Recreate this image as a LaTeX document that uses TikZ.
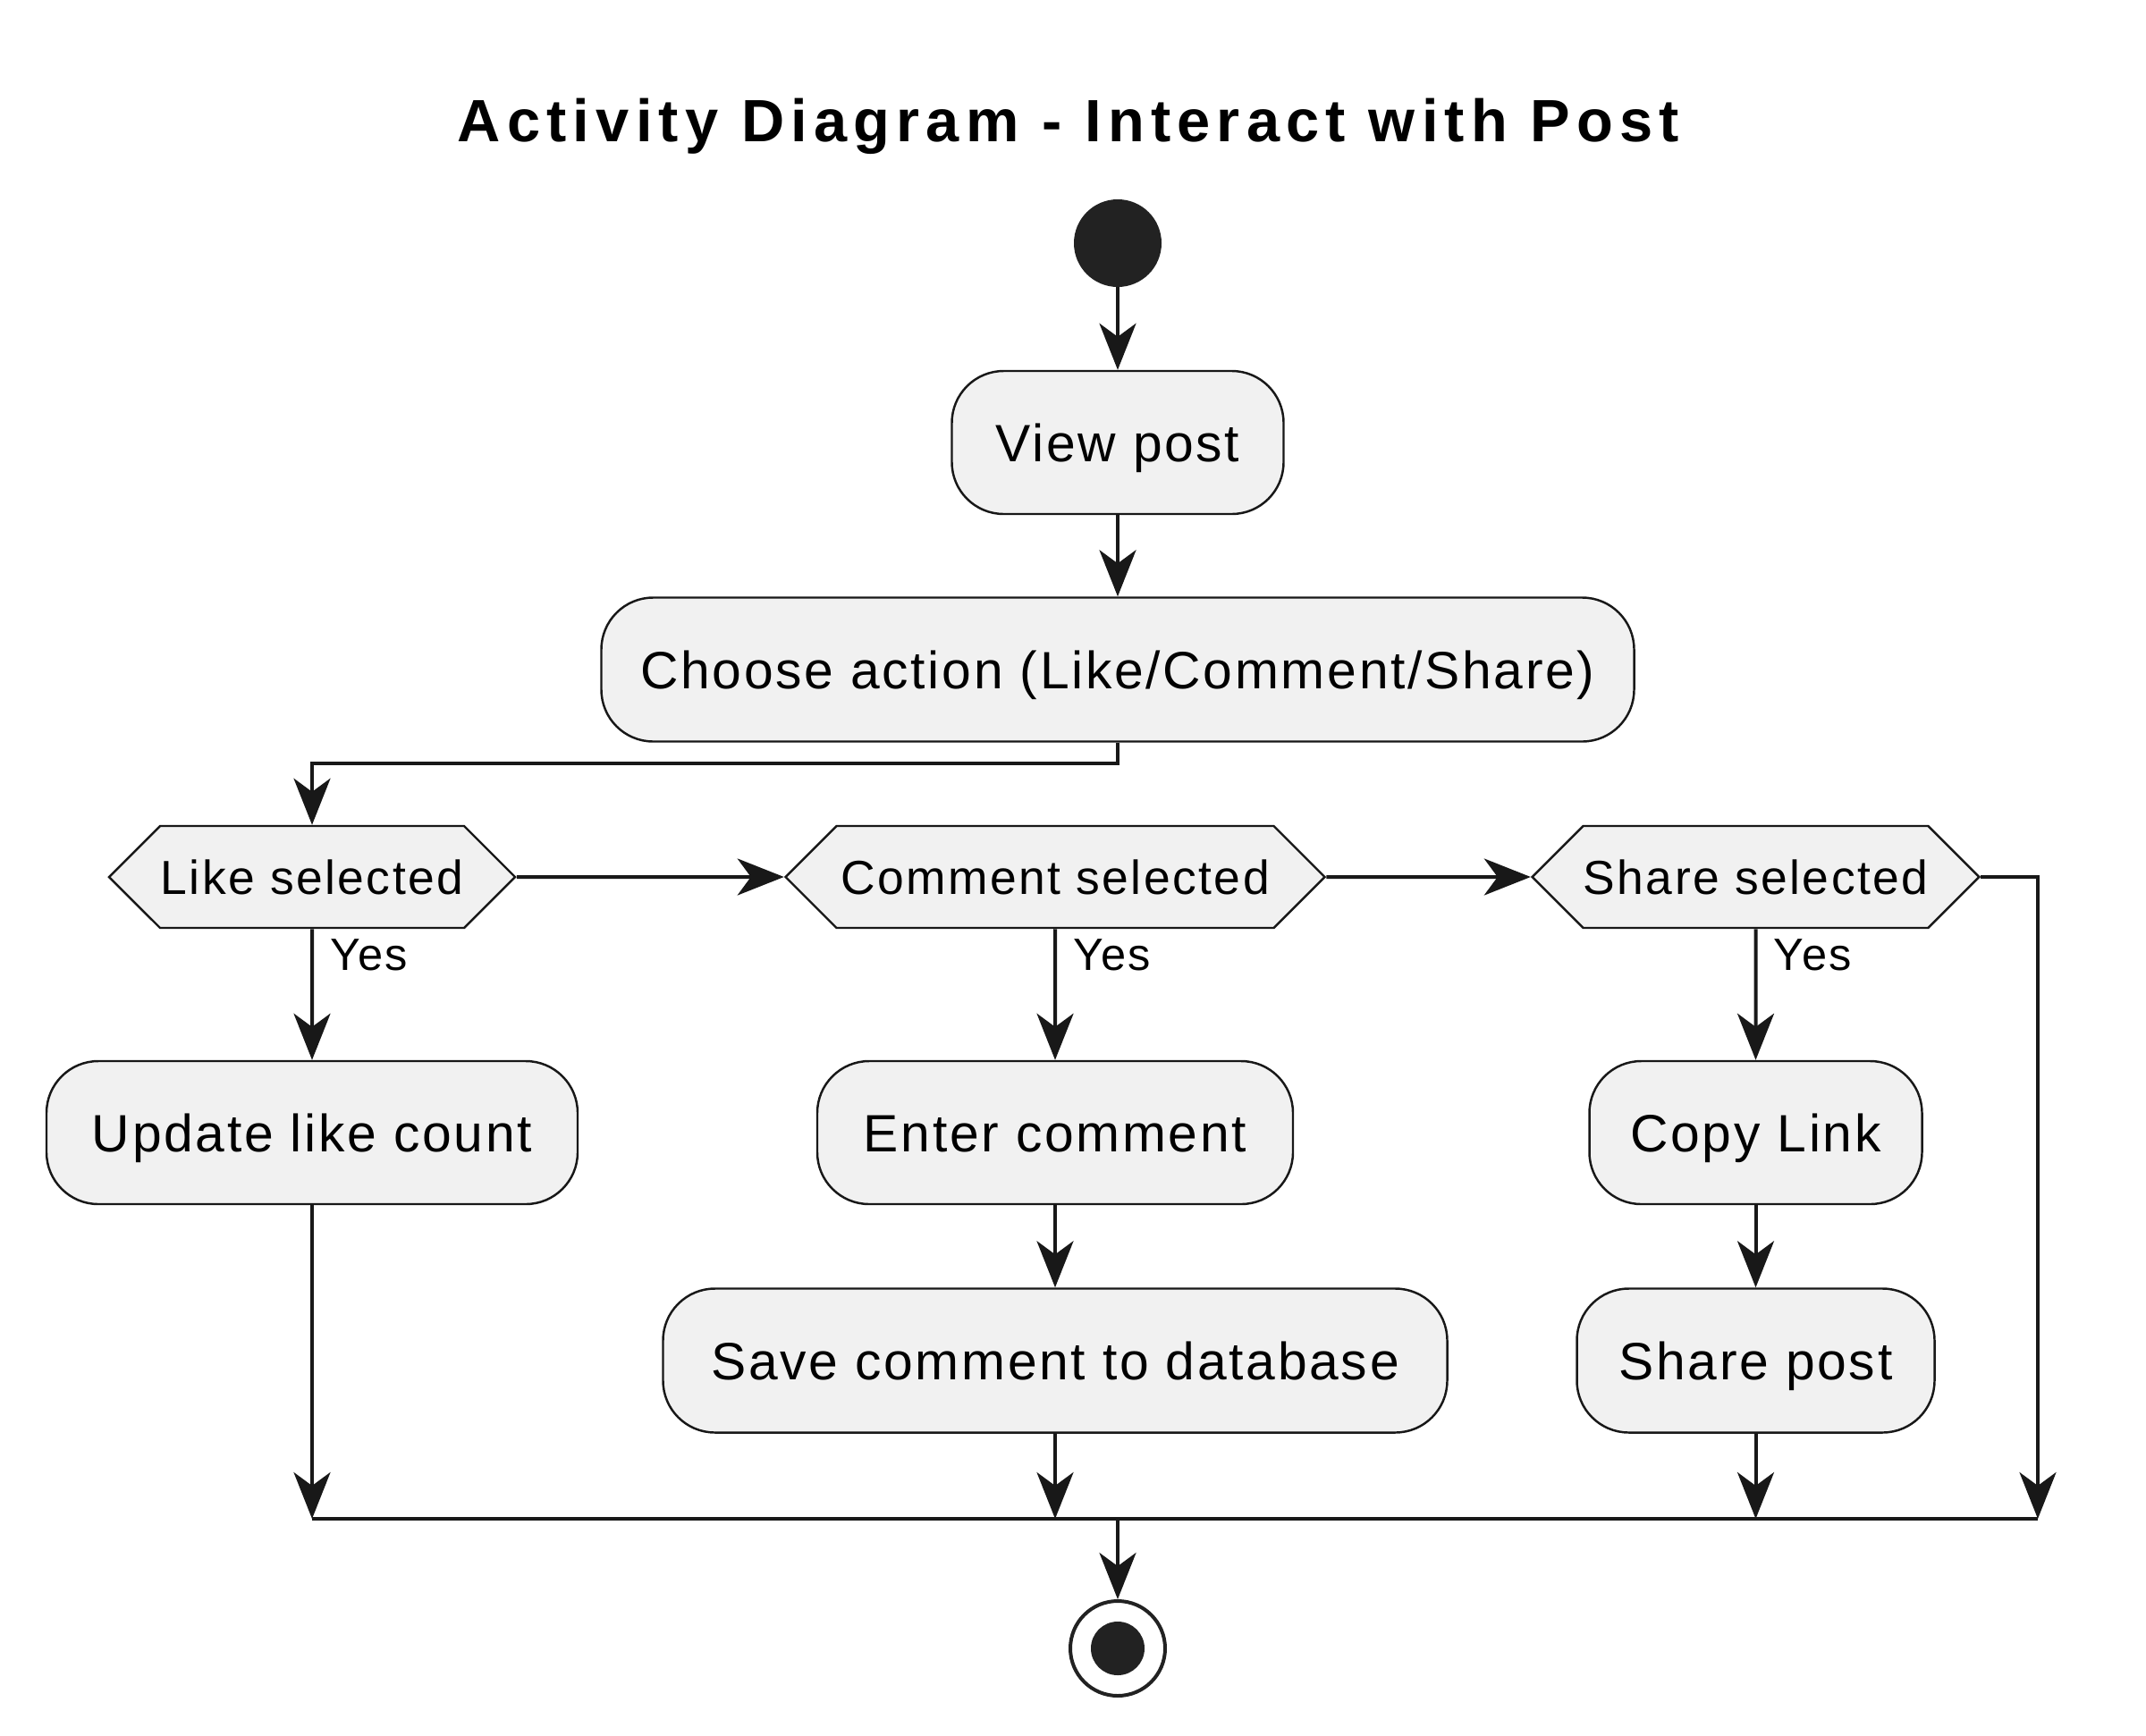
\documentclass[tikz,border=0pt]{standalone}
\usepackage{fontspec}
\setmainfont{Liberation Sans}[LetterSpace=4.6]
\newfontfamily\titlefont{Liberation Sans}[LetterSpace=10.8]
\usetikzlibrary{arrows.meta,shapes.symbols}
\definecolor{boxfill}{HTML}{F1F1F1}
\definecolor{boxline}{HTML}{181818}
\definecolor{dotfill}{HTML}{222222}
\pgfdeclarelayer{nodelayer}
\pgfdeclarelayer{edgelayer}
\pgfsetlayers{edgelayer,nodelayer,main}
\tikzstyle{activity box}=[fill=boxfill, draw=boxline, line width=1.4pt, shape=rectangle, rounded corners=1.16cm, minimum height=3.2cm, inner sep=0pt, text height=24pt, text depth=0pt, font=\fontsize{33.45}{40}\selectfont]
\tikzstyle{decision box}=[fill=boxfill, draw=boxline, line width=1.4pt, shape=signal, signal to=west and east, signal pointer angle=90, minimum height=2.28cm, inner sep=0pt, text height=21.8pt, text depth=0pt, font=\fontsize{30.4}{36}\selectfont]
\tikzstyle{initial dot}=[fill=dotfill, shape=circle, minimum size=1.96cm, inner sep=0pt]
\tikzstyle{final ring}=[fill=white, draw=dotfill, line width=2.27pt, shape=circle, minimum size=2.12cm, inner sep=0pt]
\tikzstyle{final dot}=[fill=dotfill, shape=circle, minimum size=1.2cm, inner sep=0pt]
\tikzstyle{guard}=[anchor=west, inner sep=0pt, text height=20.6pt, text depth=0pt, font=\fontsize{28.8}{34}\selectfont]
\tikzstyle{directed edge}=[-{Stealth[length=1.04cm, width=0.82cm, inset=0.3cm]}, draw=boxline, line width=2.27pt]
\tikzstyle{plain edge}=[draw=boxline, line width=2.27pt]
\begin{document}
\begin{tikzpicture}
        	\useasboundingbox (0, 0) rectangle (48, -38.82);
        	\begin{pgfonlayer}{nodelayer}
        		\node [anchor=base, font=\titlefont\bfseries\fontsize{38}{46}\selectfont] (title) at (23.9, -3.16) {Activity Diagram - Interact with Post};
        		\node [style=initial dot] (0) at (25, -5.44) {};
        		\node [style=activity box, minimum width=7.42cm] (1) at (25, -9.9) {View post};
        		\node [style=activity box, minimum width=23.1cm, minimum height=3.22cm] (2) at (25, -14.98) {Choose action (Like/Comment/Share)};
        		\node [style=decision box, minimum width=9.08cm] (3) at (6.98, -19.62) {Like selected};
        		\node [style=decision box, minimum width=12.06cm] (4) at (23.6, -19.62) {Comment selected};
        		\node [style=decision box, minimum width=9.98cm] (5) at (39.27, -19.62) {Share selected};
        		\node [style=activity box, minimum width=11.88cm] (6) at (6.98, -25.34) {Update like count};
        		\node [style=activity box, minimum width=10.64cm] (7) at (23.6, -25.34) {Enter comment};
        		\node [style=activity box, minimum width=7.44cm] (8) at (39.27, -25.34) {Copy Link};
        		\node [style=activity box, minimum width=17.54cm, minimum height=3.22cm] (9) at (23.6, -30.44) {Save comment to database};
        		\node [style=activity box, minimum width=8cm, minimum height=3.22cm] (10) at (39.27, -30.44) {Share post};
        		\node [style=final ring] (11) at (25, -36.88) {};
        		\node [style=final dot] (15) at (25, -36.88) {};
        		\coordinate (12) at (6.98, -33.98);
        		\coordinate (13) at (45.58, -33.98);
        		\coordinate (14) at (25, -33.98);
        	\end{pgfonlayer}
        	\begin{pgfonlayer}{edgelayer}
        		\draw [style=directed edge] (0) to (1);
        		\draw [style=directed edge] (1) to (2);
        		\draw [style=directed edge] (2.south) -- ++(0, -0.46) -| (3.north);
        		\draw [style=directed edge] (3) to (4);
        		\draw [style=directed edge] (4) to (5);
        		\draw [style=directed edge] (5.east) -| (13);
        		\draw [style=directed edge] (3) to node [style=guard, pos=0.19, xshift=0.36cm] {Yes} (6);
        		\draw [style=directed edge] (4) to node [style=guard, pos=0.19, xshift=0.36cm] {Yes} (7);
        		\draw [style=directed edge] (5) to node [style=guard, pos=0.19, xshift=0.36cm] {Yes} (8);
        		\draw [style=directed edge] (7) to (9);
        		\draw [style=directed edge] (8) to (10);
        		\draw [style=directed edge] (6) -- (6 |- 12);
        		\draw [style=directed edge] (9) -- (9 |- 12);
        		\draw [style=directed edge] (10) -- (10 |- 12);
        		\draw [style=plain edge] (12) -- (13);
        		\draw [style=directed edge] (14) -- (11);
        	\end{pgfonlayer}
        \end{tikzpicture}
\end{document}
